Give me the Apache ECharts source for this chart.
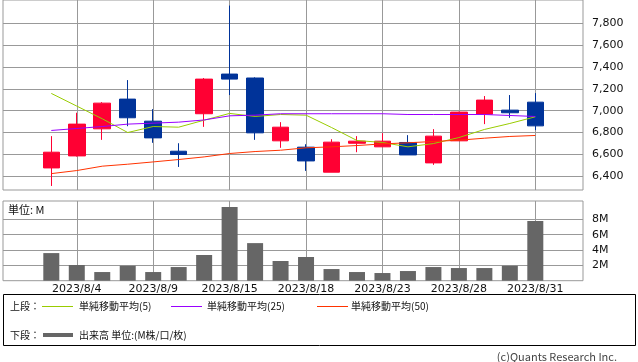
<!DOCTYPE html>
<html><head><meta charset="utf-8">
<script src="https://cdn.jsdelivr.net/npm/echarts@6/dist/echarts.min.js"></script>
<style>html,body{margin:0;padding:0;background:#fff}#c{width:638px;height:362px}</style>
</head><body><div id="c"></div>
<script>
const dates = ['2023/8/3','2023/8/4','2023/8/7','2023/8/8','2023/8/9','2023/8/10','2023/8/14','2023/8/15','2023/8/16','2023/8/17','2023/8/18','2023/8/21','2023/8/22','2023/8/23','2023/8/24','2023/8/25','2023/8/28','2023/8/29','2023/8/30','2023/8/31'];
const openV  = [6476,6586,6834,7106,6904,6629,6972,7335,7299,6724,6666,6437,6702,6669,6709,6522,6724,6968,7005,7078];
const closeV = [6620,6877,7069,6935,6751,6599,7289,7289,6797,6849,6540,6712,6721,6721,6595,6767,6987,7097,6981,6861];
const lowV   = [6311,6580,6733,6858,6706,6485,6852,7143,6733,6660,6449,6437,6620,6669,6595,6504,6724,6877,6935,6822];
const highV  = [6767,6981,7078,7280,7014,6702,7299,7962,7305,6895,6693,6739,6767,6794,6776,6831,6990,7134,7143,7161];
const volume = [3.6,2.05,1.13,1.95,1.13,1.78,3.35,9.6,4.9,2.57,3.09,1.52,1.13,1.0,1.26,1.78,1.65,1.65,1.95,7.78];
const ma5  = [7158,7042,6926,6800,6855,6849,6913,6975,6947,6965,6959,6846,6727,6709,6669,6699,6754,6828,6883,6944];
const ma25 = [6819,6837,6855,6877,6886,6895,6915,6953,6959,6972,6972,6972,6972,6972,6965,6965,6965,6965,6956,6947];
const ma50 = [6424,6452,6492,6510,6531,6553,6577,6608,6626,6638,6660,6669,6681,6696,6706,6718,6730,6748,6764,6773];
const xLabelIdx = [1,4,7,10,13,16,19];
const priceTicks = [6400,6600,6800,7000,7200,7400,7600,7800];
const volTicks = [2,4,6,8];

const chart = echarts.init(document.getElementById('c'), null, {renderer:'canvas'});
const GRID = '#999999';
const idx = dates.map((d,i)=>i);
const candleData = idx.map(i=>[i, openV[i], closeV[i], lowV[i], highV[i]]);
const volData = idx.map(i=>[i, volume[i]]);
const lineData = arr => idx.map(i=>[i, arr[i]]);
const xMin = -1.896, xMax = 20.872;
const lab = {color:'#111', fontSize:11, fontFamily:'DejaVu Sans'};
const jp = 'Noto Sans CJK JP';

function xAxis(gi, showLabel){
  return {type:'value', gridIndex:gi, min:xMin, max:xMax,
    axisLine:{show:false},
    axisTick:{show:false, customValues:xLabelIdx},
    axisLabel:{show:showLabel, customValues:xLabelIdx, formatter:v=>dates[Math.round(v)], margin:3, ...lab},
    splitLine:{show:true, lineStyle:{color:GRID, width:1}}};
}
chart.setOption({
  animation:false,
  grid:[
    {left:3, top:0, width:580, height:190, show:true, borderColor:GRID, borderWidth:1, containLabel:false},
    {left:3, top:201, width:580, height:79.7, show:true, borderColor:GRID, borderWidth:1, containLabel:false}
  ],
  xAxis:[xAxis(0,false), xAxis(1,true)],
  yAxis:[
    {type:'value', gridIndex:0, position:'right', min:6274, max:8013,
      axisLine:{show:false},
      axisTick:{show:true, customValues:priceTicks, length:4, lineStyle:{color:GRID}},
      axisLabel:{customValues:priceTicks, formatter:v=>v.toLocaleString('en-US'), margin:9, ...lab},
      splitLine:{show:true, lineStyle:{color:GRID, width:1}}},
    {type:'value', gridIndex:1, position:'right', min:0, max:10.39,
      axisLine:{show:false},
      axisTick:{show:true, customValues:volTicks, length:4, lineStyle:{color:GRID}},
      axisLabel:{customValues:volTicks, formatter:v=>v+'M', margin:9, ...lab},
      splitLine:{show:true, lineStyle:{color:GRID, width:1}}}
  ],
  series:[
    {type:'candlestick', xAxisIndex:0, yAxisIndex:0, data:candleData, barWidth:17,
      itemStyle:{color:'#ff0033', color0:'#003399', borderColor:'#ff0033', borderColor0:'#003399', borderWidth:1}},
    {type:'line', xAxisIndex:0, yAxisIndex:0, data:lineData(ma5), symbol:'none', lineStyle:{color:'#99cc00', width:1}},
    {type:'line', xAxisIndex:0, yAxisIndex:0, data:lineData(ma25), symbol:'none', lineStyle:{color:'#9900ff', width:1}},
    {type:'line', xAxisIndex:0, yAxisIndex:0, data:lineData(ma50), symbol:'none', lineStyle:{color:'#ff3300', width:1}},
    {type:'bar', xAxisIndex:1, yAxisIndex:1, data:volData, barWidth:16, itemStyle:{color:'#666666'}}
  ],
  graphic:[
    {type:'text', left:8, top:204, style:{text:'単位: M', fill:'#111', font:'11px "'+jp+'"'}},
    {type:'rect', shape:{x:3.5, y:294.5, width:632, height:51}, style:{fill:'none', stroke:'#000', lineWidth:1}},
    {type:'text', x:10, y:306, style:{text:'上段：', fill:'#111', font:'10px "'+jp+'"', textVerticalAlign:'middle'}},
    {type:'line', shape:{x1:42, y1:306.5, x2:73, y2:306.5}, style:{stroke:'#99cc00', lineWidth:1}},
    {type:'text', x:79, y:306, style:{text:'単純移動平均(5)', fill:'#111', font:'10px "'+jp+'"', textVerticalAlign:'middle'}},
    {type:'line', shape:{x1:171, y1:306.5, x2:202, y2:306.5}, style:{stroke:'#9900ff', lineWidth:1}},
    {type:'text', x:207, y:306, style:{text:'単純移動平均(25)', fill:'#111', font:'10px "'+jp+'"', textVerticalAlign:'middle'}},
    {type:'line', shape:{x1:317, y1:306.5, x2:348, y2:306.5}, style:{stroke:'#ff3300', lineWidth:1}},
    {type:'text', x:351, y:306, style:{text:'単純移動平均(50)', fill:'#111', font:'10px "'+jp+'"', textVerticalAlign:'middle'}},
    {type:'text', x:10, y:335, style:{text:'下段：', fill:'#111', font:'10px "'+jp+'"', textVerticalAlign:'middle'}},
    {type:'line', shape:{x1:43, y1:335, x2:73, y2:335}, style:{stroke:'#666666', lineWidth:4}},
    {type:'text', x:79, y:335, style:{text:'出来高 単位:(M株/口/枚)', fill:'#111', font:'10px "'+jp+'"', textVerticalAlign:'middle'}},
    {type:'text', x:617, y:357, style:{text:'(c)Quants Research Inc.', fill:'#444', font:'11px "'+jp+'"', textAlign:'right', textVerticalAlign:'middle'}}
  ]
});
</script></body></html>
